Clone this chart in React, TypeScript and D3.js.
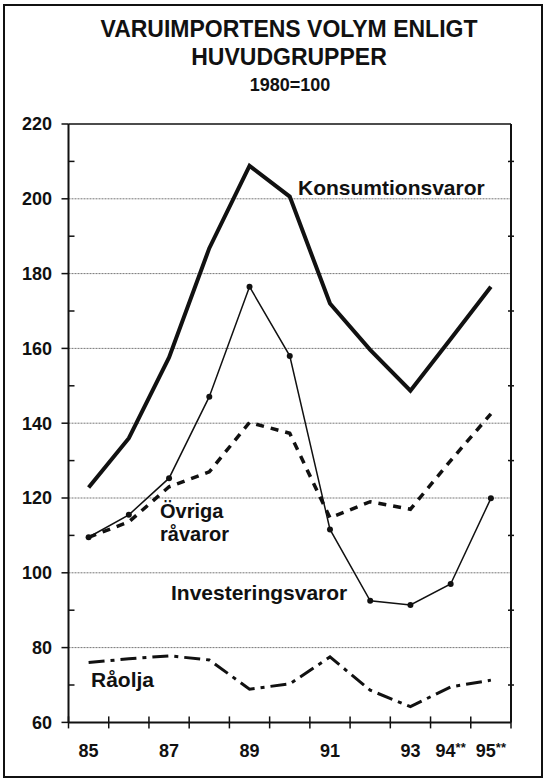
import * as React from "react";
import * as d3 from "d3";

// 1980=100, import volume by main group
const years = ["85", "86", "87", "88", "89", "90", "91", "92", "93", "94", "95"];
const xLabels = ["85", "", "87", "", "89", "", "91", "", "93", "94", "95"];
const prelim = ["", "", "", "", "", "", "", "", "", "**", "**"];

const konsumtionsvaror = [122.8, 136, 157.6, 186.8, 208.8, 200.6, 172, 159.6, 148.7, 162.5, 176.5];
const investeringsvaror = [109.5, 115.5, 125.3, 147.1, 176.5, 158, 111.6, 92.5, 91.4, 97, 119.9];
const ovrigaRavaror = [109.5, 113.6, 123, 127, 140.2, 137.3, 114.7, 119, 117, 130, 142.5];
const raolja = [76, 77, 77.8, 76.7, 68.9, 70.3, 77.5, 68.6, 64.2, 69.5, 71.3];

const yTicks = [60, 80, 100, 120, 140, 160, 180, 200, 220];
const yMinorTicks = [70, 90, 110, 130, 150, 170, 190, 210];

const FONT = "'Liberation Sans', Arial, Helvetica, sans-serif";

export default function App() {
  const width = 546;
  const height = 779;
  const left = 68.5;
  const right = 511;
  const top = 124;
  const bottom = 722.4;

  const x = d3.scaleBand().domain(years).range([left, right]);
  const y = d3.scaleLinear().domain([60, 220]).range([bottom, top]);
  const cx = (d: string) => (x(d) as number) + x.bandwidth() / 2;

  const line = d3
    .line<number>()
    .x((_, i) => cx(years[i]))
    .y((v) => y(v));

  const bounds = years.map((d) => x(d) as number).concat([right]);

  return (
    <svg
      width={width}
      height={height}
      style={{ position: "absolute", left: 0, top: 0, background: "#fff" }}
      fontFamily={FONT}
      fontWeight="bold"
    >
      <rect x={4} y={5} width={538} height={772} fill="none" stroke="#111" strokeWidth={2} />

      {/* title */}
      <g textAnchor="middle" fill="#111">
        <text x={289} y={37} fontSize={23}>VARUIMPORTENS VOLYM ENLIGT</text>
        <text x={289} y={65} fontSize={23}>HUVUDGRUPPER</text>
        <text x={290} y={91} fontSize={18}>1980=100</text>
      </g>

      {/* grid */}
      {yTicks.slice(1, -1).map((t) => (
        <line key={"g" + t} x1={left} x2={right} y1={y(t)} y2={y(t)} stroke="#777" strokeWidth={1} strokeDasharray="2,1" />
      ))}

      {/* frame of plot */}
      <line x1={left} x2={right} y1={top} y2={top} stroke="#111" strokeWidth={1.5} />
      <line x1={left} x2={left} y1={top} y2={bottom} stroke="#111" strokeWidth={2} />
      <line x1={right} x2={right} y1={top} y2={bottom} stroke="#111" strokeWidth={2} />
      <line x1={left} x2={right} y1={bottom} y2={bottom} stroke="#111" strokeWidth={2} />

      {/* y ticks */}
      {yTicks.map((t) => (
        <g key={"yt" + t}>
          <line x1={left - 7} x2={left} y1={y(t)} y2={y(t)} stroke="#111" strokeWidth={1.5} />
          <text x={52} y={y(t)} dy="0.35em" textAnchor="end" fontSize={18} fill="#111">
            {t}
          </text>
        </g>
      ))}
      {yMinorTicks.map((t) => (
        <g key={"ym" + t}>
          <line x1={left} x2={left + 6} y1={y(t)} y2={y(t)} stroke="#111" strokeWidth={1.5} />
          <line x1={right - 3} x2={right + 3} y1={y(t)} y2={y(t)} stroke="#111" strokeWidth={1.5} />
        </g>
      ))}

      {/* x ticks */}
      {bounds.map((b, i) => (
        <line key={"xt" + i} x1={b} x2={b} y1={bottom - 6} y2={bottom + 6} stroke="#111" strokeWidth={1.5} />
      ))}
      {years.map((d, i) =>
        xLabels[i] ? (
          <text key={"xl" + d} x={cx(d)} y={757} textAnchor="middle" fontSize={18} fill="#111">
            {xLabels[i]}
            {prelim[i] ? (
              <tspan fontSize={13} dy={-5}>
                {prelim[i]}
              </tspan>
            ) : null}
          </text>
        ) : null
      )}

      {/* series */}
      <path d={line(raolja) as string} fill="none" stroke="#111" strokeWidth={3} strokeDasharray="16,6,4,6" />
      <path d={line(ovrigaRavaror) as string} fill="none" stroke="#111" strokeWidth={3.5} strokeDasharray="8,7" />
      <path d={line(investeringsvaror) as string} fill="none" stroke="#111" strokeWidth={1.5} />
      {investeringsvaror.map((v, i) => (
        <circle key={"c" + i} cx={cx(years[i])} cy={y(v)} r={3} fill="#111" />
      ))}
      <path d={line(konsumtionsvaror) as string} fill="none" stroke="#111" strokeWidth={4} strokeLinejoin="miter" />

      {/* series labels */}
      <g fontSize={21} fill="#111">
        <text x={298} y={195}>Konsumtionsvaror</text>
        <text x={160} y={518} fontSize={20}>Övriga</text>
        <text x={160} y={541} fontSize={20}>råvaror</text>
        <text x={171} y={600}>Investeringsvaror</text>
        <text x={91} y={687}>Råolja</text>
      </g>
    </svg>
  );
}
